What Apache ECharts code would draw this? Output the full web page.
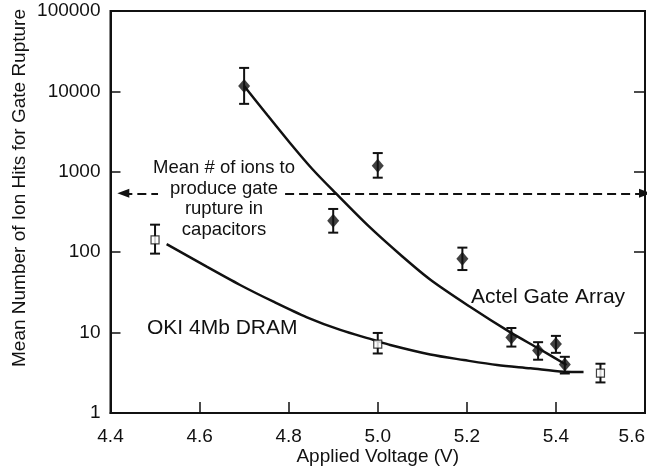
<!DOCTYPE html>
<html>
<head>
<meta charset="utf-8">
<script src="https://cdn.jsdelivr.net/npm/echarts@6/dist/echarts.min.js"></script>
<style>
  html, body { margin: 0; padding: 0; background: #fff; }
  #chart { width: 647px; height: 470px; }
</style>
</head>
<body>
<div id="chart"></div>
<script>
// Actel gate array: measured mean ion hits with error bounds
var actelVoltage = [4.7, 4.9, 5.0, 5.19, 5.3, 5.36, 5.4, 5.42];
var actelHits    = [11700, 246, 1190, 83, 8.7, 6.0, 7.2, 4.0];
var actelLow     = [7000, 175, 845, 60, 6.7, 4.6, 5.6, 3.1];
var actelHigh    = [19600, 345, 1710, 114, 11.4, 7.6, 9.1, 5.0];

// OKI 4Mb DRAM: measured mean ion hits with error bounds
var okiVoltage = [4.5, 5.0, 5.5];
var okiHits    = [142, 7.2, 3.14];
var okiLow     = [96, 5.5, 2.4];
var okiHigh    = [220, 9.9, 4.1];

// Fitted trend curves
var actelFitV = [4.700, 4.752, 4.803, 4.853, 4.905, 4.979, 5.054, 5.119, 5.208, 5.296, 5.363, 5.424];
var actelFitY = [11670, 5085, 2282, 1083, 545, 212, 89.7, 45.1, 20.8, 10.2, 6.25, 3.95];
var okiFitV = [4.526, 4.616, 4.691, 4.766, 4.841, 4.916, 4.991, 5.028, 5.118, 5.193, 5.268, 5.343, 5.418, 5.462];
var okiFitY = [126, 66, 39.1, 24.2, 15.5, 10.8, 8.09, 7.01, 5.34, 4.56, 3.95, 3.60, 3.26, 3.24];

// Capacitor rupture reference level and its dashed arrow extents (left arrow / right arrow)
var capacitorLevel = 540;
var leftArrowSpan = [4.4288, 4.5067];
var rightArrowSpan = [4.792, 5.6];

// Axis ranges and ticks
var xTicks = { min: 4.4, max: 5.6, interval: 0.2 };
var yRange = { min: 1, max: 100000 };

var FONT = "'Liberation Sans', Arial, Helvetica, sans-serif";
var INK = '#111';

function zip(a, b) { return a.map(function (v, i) { return [v, b[i]]; }); }
function zip3(a, b, c) { return a.map(function (v, i) { return [v, b[i], c[i]]; }); }

function errorBar(params, api) {
  var x = api.value(0);
  var lo = api.coord([x, api.value(1)]);
  var hi = api.coord([x, api.value(2)]);
  var half = 5;
  var style = { stroke: INK, lineWidth: 2 };
  return {
    type: 'group',
    children: [
      { type: 'line', shape: { x1: lo[0], y1: lo[1], x2: hi[0], y2: hi[1] }, style: style },
      { type: 'line', shape: { x1: lo[0] - half, y1: lo[1], x2: lo[0] + half, y2: lo[1] }, style: style },
      { type: 'line', shape: { x1: hi[0] - half, y1: hi[1], x2: hi[0] + half, y2: hi[1] }, style: style }
    ]
  };
}

var chart = echarts.init(document.getElementById('chart'), null, { renderer: 'canvas' });

var option = {
  animation: false,
  backgroundColor: '#fff',
  grid: {
    left: 110.5, right: 2, top: 11, bottom: 57,
    containLabel: false, outerBoundsMode: 'none',
    show: true, borderColor: INK, borderWidth: 2, backgroundColor: 'transparent'
  },
  xAxis: {
    type: 'value',
    min: xTicks.min, max: xTicks.max, interval: xTicks.interval,
    name: 'Applied Voltage (V)',
    nameLocation: 'middle',
    nameGap: 34,
    nameMoveOverlap: false,
    nameTextStyle: { fontFamily: FONT, fontSize: 19, color: INK },
    axisLine: { show: true, lineStyle: { color: INK, width: 2 } },
    axisTick: { show: true, inside: true, length: 11, lineStyle: { color: INK, width: 1.5 } },
    axisLabel: {
      margin: 14, fontFamily: FONT, fontSize: 19, color: INK, alignMaxLabel: 'right',
      formatter: function (v) { return v.toFixed(1); }
    },
    splitLine: { show: false }
  },
  yAxis: [
    {
      type: 'log', logBase: 10, min: yRange.min, max: yRange.max,
      position: 'left',
      axisLine: { show: true, lineStyle: { color: INK, width: 2 } },
      axisTick: { show: true, inside: true, length: 10, lineStyle: { color: INK, width: 1.5 } },
      axisLabel: { margin: 10, fontFamily: FONT, fontSize: 19, color: INK, formatter: function (v) { return String(Math.round(v)); } },
      splitLine: { show: false }
    },
    {
      type: 'log', logBase: 10, min: yRange.min, max: yRange.max,
      position: 'right',
      axisLine: { show: true, lineStyle: { color: INK, width: 2 } },
      axisTick: { show: true, inside: true, length: 11, lineStyle: { color: INK, width: 1.5 } },
      axisLabel: { show: false },
      splitLine: { show: false }
    }
  ],
  series: [
    {
      name: 'Actel fit', type: 'line', data: zip(actelFitV, actelFitY), smooth: 0.3,
      showSymbol: false, symbol: 'none', lineStyle: { color: INK, width: 2.5 }, z: 2
    },
    {
      name: 'OKI fit', type: 'line', data: zip(okiFitV, okiFitY), smooth: 0.3,
      showSymbol: false, symbol: 'none', lineStyle: { color: INK, width: 2.5 }, z: 2,
      markLine: {
        silent: true,
        animation: false,
        label: { show: false },
        lineStyle: { color: INK, width: 2, type: [9, 5] },
        symbolSize: [9, 12],
        data: [
          [{ coord: [leftArrowSpan[0], capacitorLevel], symbol: 'triangle' }, { coord: [leftArrowSpan[1], capacitorLevel], symbol: 'none' }],
          [{ coord: [rightArrowSpan[0], capacitorLevel], symbol: 'none' }, { coord: [rightArrowSpan[1], capacitorLevel], symbol: 'triangle' }]
        ]
      }
    },
    { name: 'Actel error', type: 'custom', data: zip3(actelVoltage, actelLow, actelHigh), renderItem: errorBar, z: 3 },
    { name: 'OKI error', type: 'custom', data: zip3(okiVoltage, okiLow, okiHigh), renderItem: errorBar, z: 3 },
    {
      name: 'Actel Gate Array', type: 'scatter', data: zip(actelVoltage, actelHits),
      symbol: 'diamond', symbolSize: [12, 14], itemStyle: { color: INK }, z: 4
    },
    {
      name: 'OKI 4Mb DRAM', type: 'scatter', data: zip(okiVoltage, okiHits),
      symbol: 'rect', symbolSize: 8, itemStyle: { color: '#fff', borderColor: INK, borderWidth: 1.2 }, z: 4
    }
  ],
  graphic: [
    {
      type: 'text', x: 20, y: 188, rotation: Math.PI / 2,
      style: { text: 'Mean Number of Ion Hits for Gate Rupture', fontFamily: FONT, fontSize: 19, fill: INK, textAlign: 'center', textVerticalAlign: 'middle' }
    },
    {
      type: 'text', x: 224, y: 158,
      style: { text: 'Mean # of ions to\nproduce gate\nrupture in\ncapacitors', fontFamily: FONT, fontSize: 18.5, lineHeight: 20.5, fill: INK, textAlign: 'center', textVerticalAlign: 'top' }
    },
    {
      type: 'text', x: 147, y: 328,
      style: { text: 'OKI 4Mb DRAM', fontFamily: FONT, fontSize: 21, fill: INK, textAlign: 'left', textVerticalAlign: 'middle' }
    },
    {
      type: 'text', x: 471, y: 297,
      style: { text: 'Actel Gate Array', fontFamily: FONT, fontSize: 21, fill: INK, textAlign: 'left', textVerticalAlign: 'middle' }
    }
  ]
};

chart.setOption(option);
</script>
</body>
</html>
